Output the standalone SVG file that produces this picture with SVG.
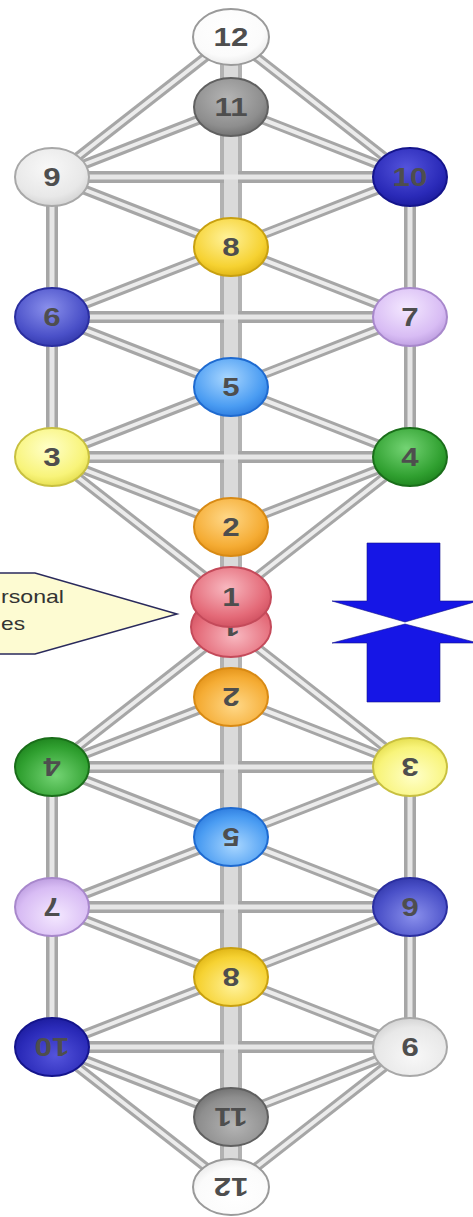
<svg xmlns="http://www.w3.org/2000/svg" width="473" height="1217" viewBox="0 0 473 1217">
<style>
  line { stroke-linecap: butt; }
  .o1 { stroke: #a6a6a6; stroke-width: 10; }
  .i1 { stroke: #ececec; stroke-width: 4; }
  .o2 { stroke: #a6a6a6; stroke-width: 12; }
  .i2 { stroke: #e6e6e6; stroke-width: 5; }
  .o3 { stroke: #b2b2b2; stroke-width: 22; }
  .i3 { stroke: #dadada; stroke-width: 14; }
  .node ellipse { stroke-width: 2; }
  .num { font-family: "Liberation Sans", Arial, sans-serif; font-size: 25px; font-weight: bold; fill: #4e4e4e; text-anchor: middle; }
  .call { font-family: "Liberation Sans", Arial, sans-serif; font-size: 19px; fill: #333333; }
</style>
<defs>
  <radialGradient id="gWhite" cx="0.45" cy="0.35" r="0.7"><stop offset="0" stop-color="#ffffff"/><stop offset="0.7" stop-color="#fbfbfb"/><stop offset="1" stop-color="#e6e6e6"/></radialGradient>
  <radialGradient id="gLight" cx="0.45" cy="0.35" r="0.7"><stop offset="0" stop-color="#f8f8f8"/><stop offset="0.7" stop-color="#e8e8e8"/><stop offset="1" stop-color="#cfcfcf"/></radialGradient>
  <radialGradient id="gGrey" cx="0.45" cy="0.35" r="0.7"><stop offset="0" stop-color="#b4b4b4"/><stop offset="0.7" stop-color="#8e8e8e"/><stop offset="1" stop-color="#6c6c6c"/></radialGradient>
  <radialGradient id="gNavy" cx="0.45" cy="0.35" r="0.7"><stop offset="0" stop-color="#5454dc"/><stop offset="0.7" stop-color="#2a2ab8"/><stop offset="1" stop-color="#1a1a9a"/></radialGradient>
  <radialGradient id="gYellow" cx="0.45" cy="0.35" r="0.7"><stop offset="0" stop-color="#fff29a"/><stop offset="0.7" stop-color="#f6d232"/><stop offset="1" stop-color="#dcb010"/></radialGradient>
  <radialGradient id="gIndigo" cx="0.45" cy="0.35" r="0.7"><stop offset="0" stop-color="#8a90ec"/><stop offset="0.7" stop-color="#4a50c8"/><stop offset="1" stop-color="#3036a8"/></radialGradient>
  <radialGradient id="gLav" cx="0.45" cy="0.35" r="0.7"><stop offset="0" stop-color="#f4e8ff"/><stop offset="0.7" stop-color="#d8bcf4"/><stop offset="1" stop-color="#b898dc"/></radialGradient>
  <radialGradient id="gSky" cx="0.45" cy="0.35" r="0.7"><stop offset="0" stop-color="#a8d6ff"/><stop offset="0.7" stop-color="#4a9cf2"/><stop offset="1" stop-color="#2a78dc"/></radialGradient>
  <radialGradient id="gLemon" cx="0.45" cy="0.35" r="0.7"><stop offset="0" stop-color="#ffffc8"/><stop offset="0.7" stop-color="#f8f47a"/><stop offset="1" stop-color="#e2da48"/></radialGradient>
  <radialGradient id="gGreen" cx="0.45" cy="0.35" r="0.7"><stop offset="0" stop-color="#74d474"/><stop offset="0.7" stop-color="#30a030"/><stop offset="1" stop-color="#1c801c"/></radialGradient>
  <radialGradient id="gOrange" cx="0.45" cy="0.35" r="0.7"><stop offset="0" stop-color="#ffd888"/><stop offset="0.7" stop-color="#f5ac34"/><stop offset="1" stop-color="#e08e14"/></radialGradient>
  <radialGradient id="gRed" cx="0.45" cy="0.35" r="0.7"><stop offset="0" stop-color="#f8b8c0"/><stop offset="0.7" stop-color="#e46a78"/><stop offset="1" stop-color="#cc4c5c"/></radialGradient>
</defs>

<rect width="473" height="1217" fill="#ffffff"/>

<g id="connectors" fill="none">
  <g id="conn-outer">
    <g id="conn-outer-top">
      <line class="o3" x1="231" y1="37" x2="231" y2="597"/>
      <line class="o2" x1="52" y1="177" x2="410" y2="177"/>
      <line class="o2" x1="52" y1="317" x2="410" y2="317"/>
      <line class="o2" x1="52" y1="457" x2="410" y2="457"/>
      <line class="o2" x1="52" y1="177" x2="52" y2="457"/>
      <line class="o2" x1="410" y1="177" x2="410" y2="457"/>
      <line class="o1" x1="231" y1="37" x2="52" y2="177"/>
      <line class="o1" x1="231" y1="37" x2="410" y2="177"/>
      <line class="o1" x1="231" y1="107" x2="52" y2="177"/>
      <line class="o1" x1="231" y1="107" x2="410" y2="177"/>
      <line class="o1" x1="52" y1="177" x2="231" y2="247"/>
      <line class="o1" x1="410" y1="177" x2="231" y2="247"/>
      <line class="o1" x1="231" y1="247" x2="52" y2="317"/>
      <line class="o1" x1="231" y1="247" x2="410" y2="317"/>
      <line class="o1" x1="52" y1="317" x2="231" y2="387"/>
      <line class="o1" x1="410" y1="317" x2="231" y2="387"/>
      <line class="o1" x1="231" y1="387" x2="52" y2="457"/>
      <line class="o1" x1="231" y1="387" x2="410" y2="457"/>
      <line class="o1" x1="52" y1="457" x2="231" y2="527"/>
      <line class="o1" x1="410" y1="457" x2="231" y2="527"/>
      <line class="o1" x1="52" y1="457" x2="231" y2="597"/>
      <line class="o1" x1="410" y1="457" x2="231" y2="597"/>
    </g>
    <g id="conn-outer-bottom" transform="rotate(180 231 612)">
      <line class="o3" x1="231" y1="37" x2="231" y2="597"/>
      <line class="o2" x1="52" y1="177" x2="410" y2="177"/>
      <line class="o2" x1="52" y1="317" x2="410" y2="317"/>
      <line class="o2" x1="52" y1="457" x2="410" y2="457"/>
      <line class="o2" x1="52" y1="177" x2="52" y2="457"/>
      <line class="o2" x1="410" y1="177" x2="410" y2="457"/>
      <line class="o1" x1="231" y1="37" x2="52" y2="177"/>
      <line class="o1" x1="231" y1="37" x2="410" y2="177"/>
      <line class="o1" x1="231" y1="107" x2="52" y2="177"/>
      <line class="o1" x1="231" y1="107" x2="410" y2="177"/>
      <line class="o1" x1="52" y1="177" x2="231" y2="247"/>
      <line class="o1" x1="410" y1="177" x2="231" y2="247"/>
      <line class="o1" x1="231" y1="247" x2="52" y2="317"/>
      <line class="o1" x1="231" y1="247" x2="410" y2="317"/>
      <line class="o1" x1="52" y1="317" x2="231" y2="387"/>
      <line class="o1" x1="410" y1="317" x2="231" y2="387"/>
      <line class="o1" x1="231" y1="387" x2="52" y2="457"/>
      <line class="o1" x1="231" y1="387" x2="410" y2="457"/>
      <line class="o1" x1="52" y1="457" x2="231" y2="527"/>
      <line class="o1" x1="410" y1="457" x2="231" y2="527"/>
      <line class="o1" x1="52" y1="457" x2="231" y2="597"/>
      <line class="o1" x1="410" y1="457" x2="231" y2="597"/>
    </g>
  </g>
  <g id="conn-inner">
    <g id="conn-inner-top">
      <line class="i3" x1="231" y1="37" x2="231" y2="597"/>
      <line class="i2" x1="52" y1="177" x2="410" y2="177"/>
      <line class="i2" x1="52" y1="317" x2="410" y2="317"/>
      <line class="i2" x1="52" y1="457" x2="410" y2="457"/>
      <line class="i2" x1="52" y1="177" x2="52" y2="457"/>
      <line class="i2" x1="410" y1="177" x2="410" y2="457"/>
      <line class="i1" x1="231" y1="37" x2="52" y2="177"/>
      <line class="i1" x1="231" y1="37" x2="410" y2="177"/>
      <line class="i1" x1="231" y1="107" x2="52" y2="177"/>
      <line class="i1" x1="231" y1="107" x2="410" y2="177"/>
      <line class="i1" x1="52" y1="177" x2="231" y2="247"/>
      <line class="i1" x1="410" y1="177" x2="231" y2="247"/>
      <line class="i1" x1="231" y1="247" x2="52" y2="317"/>
      <line class="i1" x1="231" y1="247" x2="410" y2="317"/>
      <line class="i1" x1="52" y1="317" x2="231" y2="387"/>
      <line class="i1" x1="410" y1="317" x2="231" y2="387"/>
      <line class="i1" x1="231" y1="387" x2="52" y2="457"/>
      <line class="i1" x1="231" y1="387" x2="410" y2="457"/>
      <line class="i1" x1="52" y1="457" x2="231" y2="527"/>
      <line class="i1" x1="410" y1="457" x2="231" y2="527"/>
      <line class="i1" x1="52" y1="457" x2="231" y2="597"/>
      <line class="i1" x1="410" y1="457" x2="231" y2="597"/>
    </g>
    <g id="conn-inner-bottom" transform="rotate(180 231 612)">
      <line class="i3" x1="231" y1="37" x2="231" y2="597"/>
      <line class="i2" x1="52" y1="177" x2="410" y2="177"/>
      <line class="i2" x1="52" y1="317" x2="410" y2="317"/>
      <line class="i2" x1="52" y1="457" x2="410" y2="457"/>
      <line class="i2" x1="52" y1="177" x2="52" y2="457"/>
      <line class="i2" x1="410" y1="177" x2="410" y2="457"/>
      <line class="i1" x1="231" y1="37" x2="52" y2="177"/>
      <line class="i1" x1="231" y1="37" x2="410" y2="177"/>
      <line class="i1" x1="231" y1="107" x2="52" y2="177"/>
      <line class="i1" x1="231" y1="107" x2="410" y2="177"/>
      <line class="i1" x1="52" y1="177" x2="231" y2="247"/>
      <line class="i1" x1="410" y1="177" x2="231" y2="247"/>
      <line class="i1" x1="231" y1="247" x2="52" y2="317"/>
      <line class="i1" x1="231" y1="247" x2="410" y2="317"/>
      <line class="i1" x1="52" y1="317" x2="231" y2="387"/>
      <line class="i1" x1="410" y1="317" x2="231" y2="387"/>
      <line class="i1" x1="231" y1="387" x2="52" y2="457"/>
      <line class="i1" x1="231" y1="387" x2="410" y2="457"/>
      <line class="i1" x1="52" y1="457" x2="231" y2="527"/>
      <line class="i1" x1="410" y1="457" x2="231" y2="527"/>
      <line class="i1" x1="52" y1="457" x2="231" y2="597"/>
      <line class="i1" x1="410" y1="457" x2="231" y2="597"/>
    </g>
  </g>
</g>

<!-- bottom (rotated) half nodes -->
<g id="node-1b" class="node" transform="translate(231 627) rotate(180)"><ellipse rx="40" ry="30" fill="url(#gRed)" stroke="#c44a5a"/><text class="num" transform="scale(1.25 1)" y="9">1</text></g>
<g id="node-2b" class="node" transform="translate(231 697) rotate(180)"><ellipse rx="37" ry="29" fill="url(#gOrange)" stroke="#d88a14"/><text class="num" transform="scale(1.25 1)" y="9">2</text></g>
<g id="node-3b" class="node" transform="translate(410 767) rotate(180)"><ellipse rx="37" ry="29" fill="url(#gLemon)" stroke="#c8c040"/><text class="num" transform="scale(1.25 1)" y="9">3</text></g>
<g id="node-4b" class="node" transform="translate(52 767) rotate(180)"><ellipse rx="37" ry="29" fill="url(#gGreen)" stroke="#1a6e1a"/><text class="num" transform="scale(1.25 1)" y="9">4</text></g>
<g id="node-5b" class="node" transform="translate(231 837) rotate(180)"><ellipse rx="37" ry="29" fill="url(#gSky)" stroke="#1e6ad0"/><text class="num" transform="scale(1.25 1)" y="9">5</text></g>
<g id="node-6b" class="node" transform="translate(410 907) rotate(180)"><ellipse rx="37" ry="29" fill="url(#gIndigo)" stroke="#2a2ea0"/><text class="num" transform="scale(1.25 1)" y="9">6</text></g>
<g id="node-7b" class="node" transform="translate(52 907) rotate(180)"><ellipse rx="37" ry="29" fill="url(#gLav)" stroke="#a888cc"/><text class="num" transform="scale(1.25 1)" y="9">7</text></g>
<g id="node-8b" class="node" transform="translate(231 977) rotate(180)"><ellipse rx="37" ry="29" fill="url(#gYellow)" stroke="#c8a010"/><text class="num" transform="scale(1.25 1)" y="9">8</text></g>
<g id="node-9b" class="node" transform="translate(410 1047) rotate(180)"><ellipse rx="37" ry="29" fill="url(#gLight)" stroke="#a8a8a8"/><text class="num" transform="scale(1.25 1)" y="9">9</text></g>
<g id="node-10b" class="node" transform="translate(52 1047) rotate(180)"><ellipse rx="37" ry="29" fill="url(#gNavy)" stroke="#14148c"/><text class="num" transform="scale(1.25 1)" y="9">10</text></g>
<g id="node-11b" class="node" transform="translate(231 1117) rotate(180)"><ellipse rx="37" ry="29" fill="url(#gGrey)" stroke="#606060"/><text class="num" transform="scale(1.25 1)" y="9">11</text></g>
<g id="node-12b" class="node" transform="translate(231 1187) rotate(180)"><ellipse rx="38" ry="28" fill="url(#gWhite)" stroke="#9a9a9a"/><text class="num" transform="scale(1.25 1)" y="9">12</text></g>

<!-- top half nodes -->
<g id="node-12" class="node" transform="translate(231 37)"><ellipse rx="38" ry="28" fill="url(#gWhite)" stroke="#9a9a9a"/><text class="num" transform="scale(1.25 1)" y="9">12</text></g>
<g id="node-11" class="node" transform="translate(231 107)"><ellipse rx="37" ry="29" fill="url(#gGrey)" stroke="#606060"/><text class="num" transform="scale(1.25 1)" y="9">11</text></g>
<g id="node-9" class="node" transform="translate(52 177)"><ellipse rx="37" ry="29" fill="url(#gLight)" stroke="#a8a8a8"/><text class="num" transform="scale(1.25 1)" y="9">9</text></g>
<g id="node-10" class="node" transform="translate(410 177)"><ellipse rx="37" ry="29" fill="url(#gNavy)" stroke="#14148c"/><text class="num" transform="scale(1.25 1)" y="9">10</text></g>
<g id="node-8" class="node" transform="translate(231 247)"><ellipse rx="37" ry="29" fill="url(#gYellow)" stroke="#c8a010"/><text class="num" transform="scale(1.25 1)" y="9">8</text></g>
<g id="node-6" class="node" transform="translate(52 317)"><ellipse rx="37" ry="29" fill="url(#gIndigo)" stroke="#2a2ea0"/><text class="num" transform="scale(1.25 1)" y="9">6</text></g>
<g id="node-7" class="node" transform="translate(410 317)"><ellipse rx="37" ry="29" fill="url(#gLav)" stroke="#a888cc"/><text class="num" transform="scale(1.25 1)" y="9">7</text></g>
<g id="node-5" class="node" transform="translate(231 387)"><ellipse rx="37" ry="29" fill="url(#gSky)" stroke="#1e6ad0"/><text class="num" transform="scale(1.25 1)" y="9">5</text></g>
<g id="node-3" class="node" transform="translate(52 457)"><ellipse rx="37" ry="29" fill="url(#gLemon)" stroke="#c8c040"/><text class="num" transform="scale(1.25 1)" y="9">3</text></g>
<g id="node-4" class="node" transform="translate(410 457)"><ellipse rx="37" ry="29" fill="url(#gGreen)" stroke="#1a6e1a"/><text class="num" transform="scale(1.25 1)" y="9">4</text></g>
<g id="node-2" class="node" transform="translate(231 527)"><ellipse rx="37" ry="29" fill="url(#gOrange)" stroke="#d88a14"/><text class="num" transform="scale(1.25 1)" y="9">2</text></g>
<g id="node-1" class="node" transform="translate(231 597)"><ellipse rx="40" ry="30" fill="url(#gRed)" stroke="#c44a5a"/><text class="num" transform="scale(1.25 1)" y="9">1</text></g>

<!-- callout -->
<g id="callout">
  <polygon points="-5,573 35,573 177,614 35,654 -5,654" fill="#fdfbd2" stroke="#2a2a5c" stroke-width="1.5"/>
  <text class="call" x="1" y="603" textLength="63" lengthAdjust="spacingAndGlyphs">rsonal</text>
  <text class="call" x="1" y="630" textLength="24" lengthAdjust="spacingAndGlyphs">es</text>
</g>

<!-- opposing arrows -->
<g id="arrows" fill="#1616e6" stroke="#10108a" stroke-width="0.6">
  <polygon points="367,543 440,543 440,601 478,601 405,622 332,601 367,601"/>
  <polygon points="332,643 405,624 478,643 440,643 440,702 367,702 367,643"/>
</g>
</svg>
